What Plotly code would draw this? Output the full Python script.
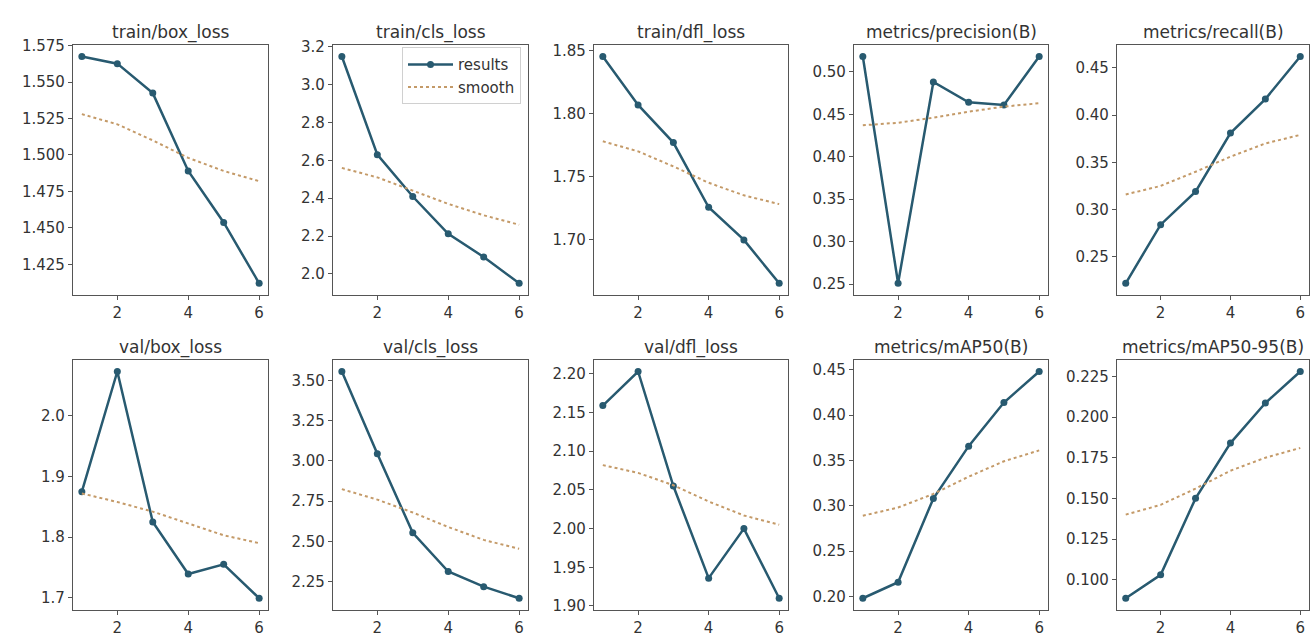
import plotly.graph_objects as go

W, H = 1312, 642
epochs = [1, 2, 3, 4, 5, 6]

titles = ["train/box_loss", "train/cls_loss", "train/dfl_loss", "metrics/precision(B)", "metrics/recall(B)",
          "val/box_loss", "val/cls_loss", "val/dfl_loss", "metrics/mAP50(B)", "metrics/mAP50-95(B)"]

train_box_loss = [1.5675, 1.5626, 1.5424, 1.489, 1.4537, 1.412]
train_box_smooth = [1.528, 1.521, 1.510, 1.498, 1.489, 1.482]
train_cls_loss = [3.148, 2.630, 2.409, 2.212, 2.090, 1.951]
train_cls_smooth = [2.56, 2.51, 2.44, 2.37, 2.31, 2.26]
train_dfl_loss = [1.8455, 1.807, 1.777, 1.7255, 1.6995, 1.665]
train_dfl_smooth = [1.778, 1.770, 1.758, 1.745, 1.735, 1.728]
precision = [0.518, 0.251, 0.488, 0.464, 0.461, 0.518]
precision_smooth = [0.437, 0.440, 0.446, 0.453, 0.459, 0.463]
recall = [0.222, 0.284, 0.319, 0.381, 0.417, 0.462]
recall_smooth = [0.316, 0.325, 0.340, 0.356, 0.370, 0.379]
val_box_loss = [1.875, 2.0735, 1.825, 1.739, 1.755, 1.699]
val_box_smooth = [1.872, 1.858, 1.842, 1.822, 1.803, 1.790]
val_cls_loss = [3.555, 3.044, 2.554, 2.314, 2.220, 2.148]
val_cls_smooth = [2.825, 2.76, 2.68, 2.59, 2.51, 2.455]
val_dfl_loss = [2.159, 2.203, 2.055, 1.936, 2.000, 1.910]
val_dfl_smooth = [2.082, 2.072, 2.056, 2.035, 2.017, 2.005]
map50 = [0.198, 0.2157, 0.308, 0.3657, 0.4138, 0.448]
map50_smooth = [0.289, 0.298, 0.313, 0.332, 0.349, 0.361]
map5095 = [0.0886, 0.103, 0.150, 0.184, 0.2086, 0.228]
map5095_smooth = [0.140, 0.146, 0.156, 0.167, 0.175, 0.181]

results = [train_box_loss, train_cls_loss, train_dfl_loss, precision, recall,
           val_box_loss, val_cls_loss, val_dfl_loss, map50, map5095]
smooths = [train_box_smooth, train_cls_smooth, train_dfl_smooth, precision_smooth, recall_smooth,
           val_box_smooth, val_cls_smooth, val_dfl_smooth, map50_smooth, map5095_smooth]
dticks = [0.025, 0.2, 0.05, 0.05, 0.05, 0.1, 0.25, 0.05, 0.05, 0.025]
fmts = [".3f", ".1f", ".2f", ".2f", ".2f", ".1f", ".2f", ".2f", ".2f", ".3f"]

# panel boxes in window pixels (left, right) / (top, bottom)
col_px = [(73, 268), (333, 528), (594, 788), (854, 1048), (1117, 1309)]
row_px = [(38, 293), (360, 615)]

LINE = "#285a70"
SMOOTH = "#c49a68"
FONT = "DejaVu Sans"
TXT = "#333333"


def fx(px):
    return px / W


def fy(px):
    return 1 - px / H


fig = go.Figure()
layout = dict(
    width=W, height=H, margin=dict(l=0, r=0, t=0, b=0),
    paper_bgcolor="white", plot_bgcolor="white",
    font=dict(family=FONT, size=15, color=TXT),
    showlegend=True,
    legend=dict(x=fx(521), y=fy(40), xanchor="right", yanchor="top",
                bordercolor="#d0d0d0", borderwidth=1, bgcolor="rgba(255,255,255,0.85)",
                font=dict(size=15, family=FONT, color=TXT), itemwidth=45, tracegroupgap=0),
)
annotations = []
for i in range(10):
    r, c = divmod(i, 5)
    n = i + 1
    xa = "x" if n == 1 else f"x{n}"
    ya = "y" if n == 1 else f"y{n}"
    fig.add_trace(go.Scatter(x=epochs, y=results[i], mode="lines+markers",
                             line=dict(color=LINE, width=2.5), marker=dict(size=7, color=LINE),
                             name="results", showlegend=(i == 1), xaxis=xa, yaxis=ya))
    fig.add_trace(go.Scatter(x=epochs, y=smooths[i], mode="lines",
                             line=dict(color=SMOOTH, width=2, dash="dot"),
                             name="smooth", showlegend=(i == 1), xaxis=xa, yaxis=ya))
    allv = results[i] + smooths[i]
    lo, hi = min(allv), max(allv)
    pad = (hi - lo) * 0.05
    x0, x1 = col_px[c]
    y0, y1 = row_px[r]
    axstyle = dict(showline=True, mirror=True, linecolor="#555555", linewidth=1.2,
                   ticks="outside", ticklen=4, tickcolor="#555555", showgrid=False,
                   zeroline=False, tickfont=dict(size=15, family=FONT, color=TXT))
    layout["xaxis" if n == 1 else f"xaxis{n}"] = dict(
        domain=[fx(x0), fx(x1)], range=[0.75, 6.25], tickvals=[2, 4, 6],
        anchor=ya, **axstyle)
    layout["yaxis" if n == 1 else f"yaxis{n}"] = dict(
        domain=[fy(y1), fy(y0)], range=[lo - pad, hi + pad],
        dtick=dticks[i], tickformat=fmts[i], anchor=xa, **axstyle)
    annotations.append(dict(text=titles[i], x=fx((x0 + x1) / 2), y=fy(y0 - 13),
                            xref="paper", yref="paper", xanchor="center", yanchor="middle",
                            showarrow=False, font=dict(size=17, family=FONT, color=TXT)))
layout["annotations"] = annotations
fig.update_layout(**layout)
fig.write_html("out.html", config={"displayModeBar": False},
               post_script="document.body.style.margin='0';document.body.style.overflow='hidden';")
